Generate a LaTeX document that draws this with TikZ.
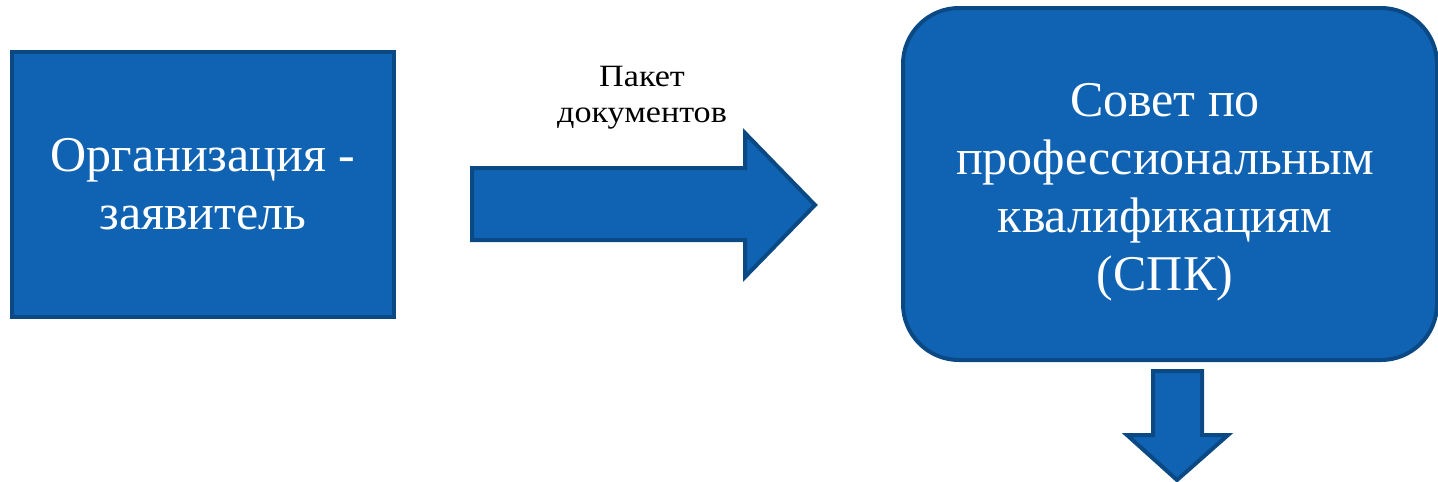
\documentclass[tikz,border=0pt]{standalone}
\usepackage{fontspec}
\setmainfont{Liberation Serif}
\newfontfamily\widefont[FakeStretch=1.1]{Liberation Serif}
\definecolor{boxfill}{RGB}{16,99,179}
\definecolor{boxline}{RGB}{11,73,133}
\begin{document}
\begin{tikzpicture}[x=1pt,y=-1pt,
  blockbox/.style={draw=boxline,fill=boxfill,line width=4pt,text=white,align=center,inner sep=0pt},
  blockarrow/.style={draw=boxline,fill=boxfill,line width=4pt,line join=miter},
  bigtext/.style={font=\fontsize{50}{58}\selectfont,text=white,align=center},
  smalltext/.style={font=\widefont\fontsize{31}{36}\selectfont,align=center,text=black}]
\useasboundingbox (0,0) rectangle (1438,482);
\node[blockbox,bigtext,minimum width=382pt,minimum height=265pt] (org) at (203,184.5) {Организация -\\заявитель};
\node[blockbox,rounded corners=56pt,minimum width=534pt,minimum height=352pt] (spk) at (1170,184) {};
\node[bigtext,inner sep=0pt] (spktext) at (1165,192) {Совет по\\профессиональным\\квалификациям\\(СПК)};
\node[smalltext] (lab) at (642,98) {Пакет\\документов};
% right block arrow
\draw[blockarrow] (472,168) -- (745,168) -- (745,133) -- (815,205) -- (745,277) -- (745,240) -- (472,240) -- cycle;
% down block arrow
\draw[blockarrow] (1153,371) -- (1202,371) -- (1202,435) -- (1228,435) -- (1177,480) -- (1127,435) -- (1153,435) -- cycle;
\end{tikzpicture}
\end{document}
